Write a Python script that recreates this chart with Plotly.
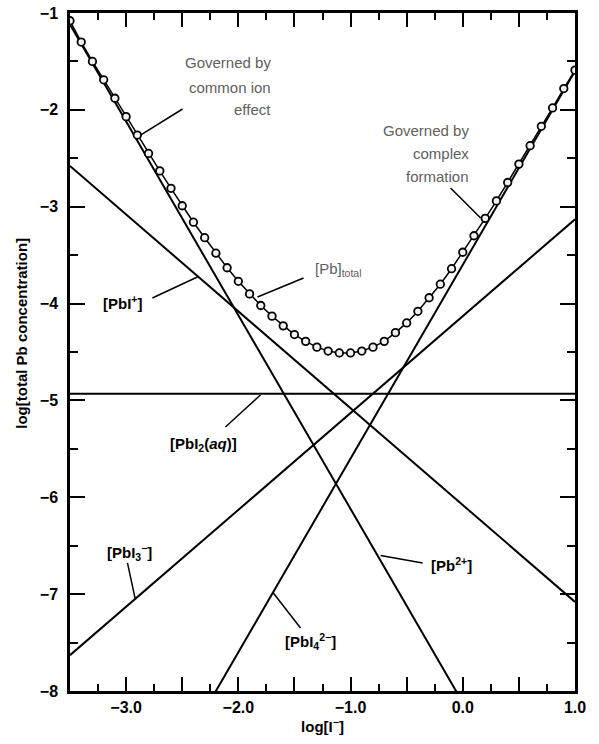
import plotly.graph_objects as go

# ---------------- data ----------------
x_ends = [-3.5, 1.0]                 # log[I-] at the two ends of each straight line
pb2_line = [-1.12, -10.12]           # [Pb2+]
pbi_line = [-2.58, -7.08]            # [PbI+]
pbi2_line = [-4.93, -4.93]           # [PbI2(aq)]
pbi3_line = [-7.63, -3.13]           # [PbI3-]
pbi4_line = [-10.60, -1.60]          # [PbI4 2-]

total_x = [-3.5, -3.4, -3.3, -3.2, -3.1, -3.0, -2.9, -2.8, -2.7, -2.6,
           -2.5, -2.4, -2.3, -2.2, -2.1, -2.0, -1.9, -1.8, -1.7, -1.6,
           -1.5, -1.4, -1.3, -1.2, -1.1, -1.0, -0.9, -0.8, -0.7, -0.6,
           -0.5, -0.4, -0.3, -0.2, -0.1, 0.0, 0.1, 0.2, 0.3, 0.4,
           0.5, 0.6, 0.7, 0.8, 0.9, 1.0]
total_y = [-1.08, -1.30, -1.50, -1.69, -1.88, -2.07, -2.26, -2.45, -2.63, -2.81,
           -2.99, -3.16, -3.32, -3.48, -3.63, -3.77, -3.90, -4.02, -4.13, -4.23,
           -4.32, -4.39, -4.45, -4.49, -4.51, -4.51, -4.49, -4.45, -4.39, -4.30,
           -4.20, -4.08, -3.94, -3.80, -3.64, -3.47, -3.30, -3.12, -2.94, -2.75,
           -2.56, -2.37, -2.17, -1.98, -1.78, -1.59]

x_tickvals = [-3.5, -3.0, -2.5, -2.0, -1.5, -1.0, -0.5, 0.0, 0.5, 1.0]
x_ticktext = ["", "\u22123.0", "", "\u22122.0", "", "\u22121.0", "", "0.0", "", "1.0"]
y_tickvals = [-8, -7, -6, -5, -4, -3, -2, -1]
y_ticktext = ["\u22128", "\u22127", "\u22126", "\u22125", "\u22124", "\u22123", "\u22122", "\u22121"]

FONT = "Liberation Sans, Arial, Helvetica, sans-serif"

fig = go.Figure()
for ys in [pb2_line, pbi_line, pbi2_line, pbi3_line, pbi4_line]:
    fig.add_trace(go.Scatter(x=x_ends, y=ys, mode="lines",
                             line=dict(color="black", width=2), hoverinfo="skip"))

fig.add_trace(go.Scatter(x=total_x, y=total_y, mode="lines+markers",
                         line=dict(color="black", width=1.5),
                         marker=dict(symbol="circle", size=7.5, color="#f2f2f2",
                                     line=dict(color="black", width=1.8))))

# pointer lines (label -> curve)
pointers = [
    ((-2.497, -1.991), (-2.872, -2.260)),   # common ion effect
    ((-0.109, -2.807), (0.159, -3.116)),    # complex formation
    ((-1.419, -3.736), (-1.829, -3.932)),   # [Pb]total
    ((-2.766, -3.942), (-2.365, -3.726)),   # [PbI+]
    ((-2.115, -5.274), (-1.803, -4.944)),   # [PbI2(aq)]
    ((-2.988, -6.678), (-2.917, -7.060)),   # [PbI3-]
    ((-1.446, -7.349), (-1.695, -6.978)),   # [PbI4 2-]
    ((-0.358, -6.678), (-0.732, -6.600)),   # [Pb2+]
]
for (x0, y0), (x1, y1) in pointers:
    fig.add_shape(type="line", xref="x", yref="y", x0=x0, y0=y0, x1=x1, y1=y1,
                  line=dict(color="black", width=1.5))

grey = dict(family=FONT, size=15, color="#606060")
label = dict(family=FONT, size=15, color="black", weight="bold")

def ann(text, x, y, font, xanchor="left"):
    fig.add_annotation(text=text, x=x, y=y, xref="x", yref="y", showarrow=False,
                       xanchor=xanchor, yanchor="middle", font=font)

ann("Governed by", -1.695, -1.506, grey, "right")
ann("common ion", -1.695, -1.764, grey, "right")
ann("effect", -1.695, -2.001, grey, "right")
ann("Governed by", 0.069, -2.208, grey, "right")
ann("complex", 0.069, -2.446, grey, "right")
ann("formation", 0.069, -2.693, grey, "right")
ann("[Pb]<sub>total</sub>", -1.339, -3.653, grey)
ann("[PbI<sup>+</sup>]", -3.228, -3.994, label)
ann("[PbI<sub>2</sub>(<i>aq</i>)]", -2.631, -5.460, label)
ann("[PbI<sub>3</sub><sup>\u2212</sup>]", -3.184, -6.565, label)
ann("[PbI<sub>4</sub><sup>2\u2212</sup>]", -1.606, -7.494, label)
ann("[Pb<sup>2+</sup>]", -0.305, -6.699, label)

# y-axis title
fig.add_annotation(text="log[total Pb concentration]", xref="paper", yref="paper",
                   x=-0.095, y=0.527, textangle=-90, showarrow=False,
                   xanchor="center", yanchor="middle",
                   font=dict(family=FONT, size=15, color="black", weight="bold"))

fig.update_layout(
    width=599, height=744,
    margin=dict(l=70, r=24, t=13, b=53, autoexpand=False),
    showlegend=False,
    plot_bgcolor="white", paper_bgcolor="white",
    xaxis=dict(range=[-3.5, 1.0], tickmode="array", tickvals=x_tickvals, ticktext=x_ticktext,
               ticks="inside", ticklen=14, tickwidth=2, tickcolor="black",
               minor=dict(dtick=0.25, tick0=0, ticks="inside", ticklen=7, tickwidth=2,
                          tickcolor="black"),
               showline=True, linewidth=2.5, linecolor="black", mirror="ticks",
               showgrid=False, zeroline=False, ticklabelstandoff=0, automargin=False,
               tickfont=dict(family=FONT, size=16, color="black", weight="bold"),
               title=dict(text="log[I<sup>\u2212</sup>]", standoff=2,
                          font=dict(family=FONT, size=15, color="black", weight="bold"))),
    yaxis=dict(range=[-8, -1], tickmode="array", tickvals=y_tickvals, ticktext=y_ticktext,
               ticks="inside", ticklen=15, tickwidth=2, tickcolor="black",
               minor=dict(dtick=0.5, tick0=0, ticks="inside", ticklen=8, tickwidth=2,
                          tickcolor="black"),
               showline=True, linewidth=2.5, linecolor="black", mirror="ticks",
               showgrid=False, zeroline=False, ticklabelstandoff=6, automargin=False,
               tickfont=dict(family=FONT, size=16, color="black", weight="bold")),
)

fig.write_html("out.html", config={"displayModeBar": False},
               post_script="document.body.style.margin='0';")
